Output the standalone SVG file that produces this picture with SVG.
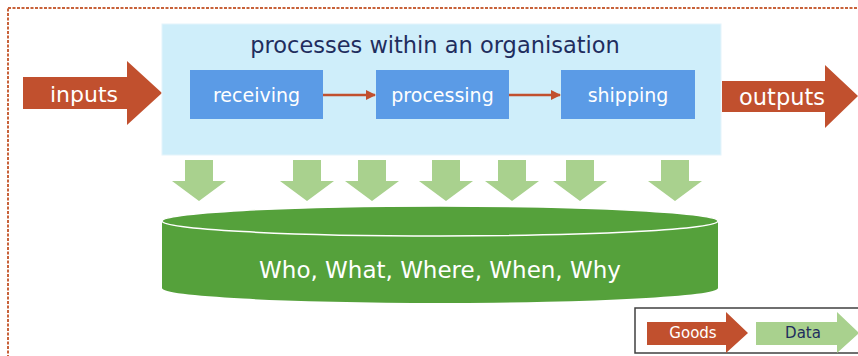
<svg xmlns="http://www.w3.org/2000/svg" width="858" height="356" viewBox="0 0 858 356">
<style>
.lbl{font-family:"DejaVu Sans",Verdana,sans-serif;fill:#ffffff;text-anchor:middle}
.title{font-family:"DejaVu Sans",Verdana,sans-serif;fill:#1f2d5e;text-anchor:middle;font-size:22.5px}
.box{fill:#5b9be6}
.goods{fill:#c1502e}
.data{fill:#a9d18e}
.link{stroke:#c1502e;stroke-width:2.5;fill:none;marker-end:url(#ah)}
</style>
<defs>
<marker id="ah" viewBox="0 0 10 10" refX="9" refY="5" markerWidth="4" markerHeight="4" orient="auto" markerUnits="strokeWidth">
<path d="M0,0 L10,5 L0,10 Z" fill="#c1502e"/>
</marker>
<path id="down" d="M-14,0 L14,0 L14,21 L27,21 L0,41 L-27,21 L-14,21 Z" class="data"/>
</defs>
<rect x="8" y="8" width="900" height="400" fill="none" stroke="#c8623a" stroke-width="2" stroke-dasharray="3 1.5"/>
<g id="inputs">
<path class="goods" d="M23,77 L127,77 L127,61 L162,93 L127,125 L127,109 L23,109 Z"/>
<text class="lbl" x="84" y="102" font-size="22">inputs</text>
</g>
<g id="organisation">
<rect x="162" y="24" width="559" height="131" fill="#cfeefa" stroke="#e4f4fb" stroke-width="1"/>
<text class="title" x="435" y="53">processes within an organisation</text>
</g>
<g id="receiving">
<rect class="box" x="190" y="70" width="133" height="49"/>
<text class="lbl" x="256.5" y="102" font-size="19">receiving</text>
</g>
<g id="processing">
<rect class="box" x="376" y="70" width="133" height="49"/>
<text class="lbl" x="442.5" y="102" font-size="19">processing</text>
</g>
<g id="shipping">
<rect class="box" x="561" y="70" width="134" height="49"/>
<text class="lbl" x="628" y="102" font-size="19">shipping</text>
</g>
<g id="outputs">
<path class="goods" d="M722,81 L825,81 L825,65 L858,96 L825,128 L825,112 L722,112 Z"/>
<text class="lbl" x="782" y="105" font-size="22.5">outputs</text>
</g>
<g id="connectors">
<line class="link" x1="323" y1="95" x2="375" y2="95"/>
<line class="link" x1="509" y1="95" x2="560" y2="95"/>
</g>
<g id="data-flows">
<use href="#down" transform="translate(199,160)"/>
<use href="#down" transform="translate(307,160)"/>
<use href="#down" transform="translate(372,160)"/>
<use href="#down" transform="translate(446,160)"/>
<use href="#down" transform="translate(512,160)"/>
<use href="#down" transform="translate(580,160)"/>
<use href="#down" transform="translate(675,160)"/>
</g>
<g id="database">
<path d="M162,221 L162,288 A278,15 0 0 0 718,288 L718,221 Z" fill="#55a13b"/>
<ellipse cx="440" cy="221" rx="278" ry="15" fill="#55a13b" stroke="#ffffff" stroke-width="1.5"/>
<text class="lbl" x="440" y="278" font-size="23">Who, What, Where, When, Why</text>
</g>
<g id="legend">
<rect x="635" y="308" width="230" height="45" fill="#ffffff" stroke="#404040" stroke-width="1.5"/>
<path class="goods" d="M647,322 L726,322 L726,312 L748,333 L726,353 L726,345 L647,345 Z"/>
<text class="lbl" x="693" y="338" font-size="15">Goods</text>
<path class="data" d="M756,322 L837,322 L837,312 L859,333 L837,353 L837,345 L756,345 Z"/>
<text class="lbl" x="803" y="338" font-size="15" style="fill:#1f2d5e">Data</text>
</g>
</svg>
